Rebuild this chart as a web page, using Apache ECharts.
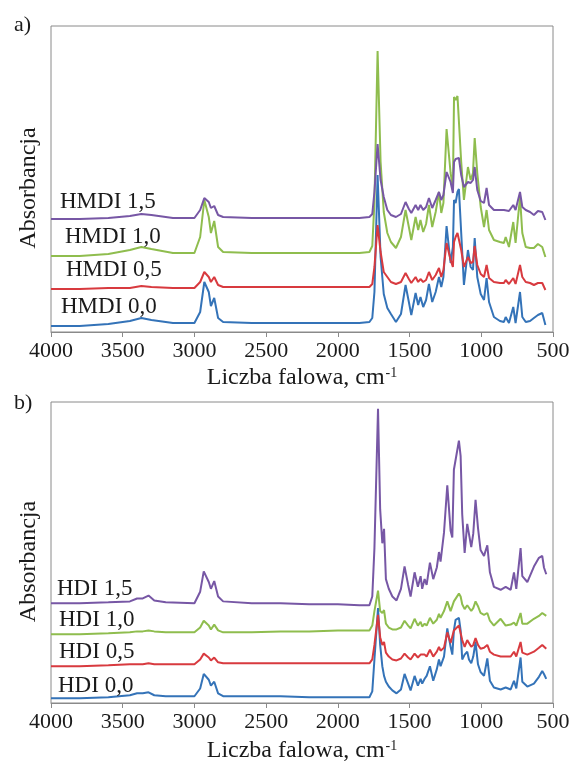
<!DOCTYPE html>
<html>
<head>
<meta charset="utf-8">
<script src="https://cdn.jsdelivr.net/npm/echarts@6/dist/echarts.min.js"></script>
<style>
html,body{margin:0;padding:0;background:#fff;}
#chart{width:577px;height:776px;}
</style>
</head>
<body>
<div id="chart"></div>
<script>
// ---- Panel a) HMDI : wavenumbers (cm-1) and absorbance (a.u., offset traces) ----
const wavenumbersA = [4000,3800,3600,3450,3370,3300,3150,3000,2960,2931,2900,2885,2862,2835,2800,2600,2400,2200,2000,1850,1780,1760,1745,1723,1702,1680,1655,1630,1595,1560,1528,1505,1488,1458,1440,1424,1405,1385,1365,1342,1318,1295,1279,1264,1242,1214,1198,1190,1179,1166,1156,1140,1121,1093,1074,1058,1046,1028,1004,981,963,946,912,870,842,830,807,777,761,730,714,690,660,633,605,575,553];
const hmdi00 = [6,6,8,11,14,12,9,9,20,50,40,26,34,14,10,9,9,9,9,9,10,14,40,157,75,38,24,18,10,18,47,30,17,39,27,35,25,32,48,30,40,55,45,55,106,69,85,132,129,140,143,99,47,82,65,62,94,55,38,32,54,30,15,11,10,15,9,25,9,40,15,10,11,14,17,19,7];
const hmdi05 = [43,43,44,44,46,45,44,44,50,60,55,50,55,47,45,45,45,45,45,45,45,48,65,107,80,60,55,50,48,50,59,53,49,55,50,53,50,52,60,52,57,64,55,62,89,72,65,90,95,99,98,82,65,75,69,70,86,67,58,55,67,54,50,49,49,52,48,54,48,67,55,50,49,47,49,49,42];
const hmdi10 = [76,76,78,82,85,83,79,79,95,132,115,99,111,85,80,79,79,79,79,79,80,86,130,281,170,120,99,90,84,95,122,105,92,115,102,112,100,108,127,105,120,140,119,129,203,159,145,235,232,236,237,170,132,165,152,159,194,159,125,105,122,102,92,90,89,95,85,110,89,135,99,85,84,84,88,85,75];
const hmdi15 = [113,113,114,116,118,117,114,114,122,134,130,124,126,117,115,114,114,114,114,114,115,118,140,188,152,135,122,117,115,118,130,123,119,127,122,127,122,125,134,124,132,140,132,137,160,150,139,170,173,175,174,157,145,150,149,152,165,142,131,129,144,127,122,122,122,124,121,127,122,140,125,122,120,117,121,120,112];

// ---- Panel b) HDI ----
const wavenumbersB = [4000,3800,3600,3450,3400,3360,3320,3280,3200,3000,2960,2935,2900,2885,2862,2835,2800,2600,2400,2200,2000,1850,1780,1760,1745,1720,1705,1690,1678,1665,1645,1620,1591,1560,1535,1510,1493,1465,1442,1423,1412,1395,1381,1358,1335,1310,1295,1284,1260,1237,1214,1202,1191,1179,1156,1144,1133,1116,1098,1086,1070,1056,1040,1023,1005,981,958,940,912,865,830,795,772,756,726,714,679,633,598,575,563,547];
const hdi00 = [5,5,6,8,10,10,11,8,7,7,15,30,24,18,22,10,7,7,7,6,6,6,6,12,45,98,60,38,28,22,17,13,10,14,30,20,13,28,18,25,20,25,28,38,23,35,45,38,48,77,58,50,75,86,88,75,45,50,53,45,41,48,63,40,32,28,46,23,16,14,16,14,23,15,47,22,17,20,27,33,30,25];
const hdi05 = [38,38,39,40,40,40,41,40,40,40,45,51,47,44,47,42,41,41,41,41,41,41,41,45,60,91,68,60,63,52,48,45,44,46,51,47,45,51,47,50,48,50,48,55,48,53,58,54,57,73,62,64,75,76,80,78,65,58,65,62,58,60,67,60,56,57,60,53,50,48,48,48,53,48,63,52,50,53,57,60,58,56];
const hdi10 = [71,71,72,73,74,74,75,74,73,73,78,85,80,76,81,75,73,73,74,74,75,75,75,80,95,116,95,93,96,82,78,76,76,78,85,80,77,87,80,84,79,82,80,88,82,86,92,88,95,105,95,96,105,107,113,110,102,97,101,100,95,98,105,100,93,91,93,85,80,87,80,81,83,80,93,82,82,87,90,93,92,90];
const hdi15 = [103,103,104,105,108,108,111,106,104,103,115,136,125,118,126,110,105,103,103,102,102,101,101,110,160,304,200,165,180,128,118,110,106,118,141,122,110,135,120,131,118,128,122,145,128,140,156,146,176,225,178,171,241,243,271,255,195,155,185,185,161,175,210,181,158,152,163,135,120,117,120,117,135,118,160,131,125,141,150,152,140,133];

const namesA = ['HMDI 0,0','HMDI 0,5','HMDI 1,0','HMDI 1,5'];
const namesB = ['HDI 0,0','HDI 0,5','HDI 1,0','HDI 1,5'];
const xTicks = [4000,3500,3000,2500,2000,1500,1000,500];
const xTitle = 'Liczba falowa, cm';
const xTitleSup = '-1';
const yTitle = 'Absorbancja';

const colors = ['#3473b8','#d83a3f','#8fbd4e','#7757a5'];
const SERIF = '"Liberation Serif","Times New Roman",serif';

function pairs(w, v){ return w.map((x,i)=>[x, v[i]]); }

function buildSeries(gridIndex, w, arrs, names, offsets){
  return arrs.map((arr, k) => ({
    name: names[k], type: 'line', xAxisIndex: gridIndex, yAxisIndex: gridIndex,
    data: pairs(w, arr), showSymbol: false, symbol: 'none',
    lineStyle: {width: 2, color: colors[k]}, itemStyle: {color: colors[k]},
    z: 2 + k, animation: false,
    markPoint: {
      silent: true, symbol: 'circle', symbolSize: 0, animation: false,
      itemStyle: {color: 'rgba(0,0,0,0)'},
      label: {
        show: true, position: 'right', distance: 0, offset: offsets[k],
        formatter: names[k], fontFamily: SERIF, fontSize: 23, color: '#1a1a1a'
      },
      data: [{coord: [w[0], arr[0]]}]
    }
  }));
}

function xAxisFor(gridIndex, gap){
  return {
    gridIndex: gridIndex, type: 'value', inverse: true, min: 500, max: 4000, interval: 500,
    axisLine: {show: true, onZero: false, lineStyle: {color: '#8a8a8a', width: 1}},
    axisTick: {show: true, inside: false, length: 5, lineStyle: {color: '#8a8a8a'}},
    axisLabel: {fontFamily: SERIF, fontSize: 22, color: '#1a1a1a', margin: 8,
      formatter: v => xTicks.indexOf(v) >= 0 ? String(v) : ''},
    splitLine: {show: false},
    name: '{n|' + xTitle + '}{s|' + xTitleSup + '}',
    nameLocation: 'middle', nameGap: gap,
    nameTextStyle: {
      fontFamily: SERIF, fontSize: 24, color: '#1a1a1a',
      rich: {
        n: {fontFamily: SERIF, fontSize: 24, color: '#1a1a1a', verticalAlign: 'bottom', lineHeight: 24},
        s: {fontFamily: SERIF, fontSize: 14, color: '#1a1a1a', verticalAlign: 'top', lineHeight: 14, padding: [0,0,22,1]}
      }
    }
  };
}

function yAxisFor(gridIndex, max){
  return {
    gridIndex: gridIndex, type: 'value', min: 0, max: max,
    axisLine: {show: false}, axisTick: {show: false}, axisLabel: {show: false},
    splitLine: {show: false},
    name: yTitle, nameLocation: 'middle', nameGap: 10, nameRotate: 90,
    nameTextStyle: {fontFamily: SERIF, fontSize: 24, color: '#1a1a1a', padding: [0, 18, 0, 0]}
  };
}

const chart = echarts.init(document.getElementById('chart'), null, {renderer: 'canvas'});
chart.setOption({
  backgroundColor: '#ffffff',
  animation: false,
  title: [
    {text: 'a)', left: 14, top: 14, padding: 0, textStyle: {fontFamily: SERIF, fontSize: 22, fontWeight: 'normal', color: '#1a1a1a'}},
    {text: 'b)', left: 14, top: 392, padding: 0, textStyle: {fontFamily: SERIF, fontSize: 22, fontWeight: 'normal', color: '#1a1a1a'}}
  ],
  grid: [
    {left: 51, right: 24, top: 26, height: 306, show: true, borderColor: '#8a8a8a', borderWidth: 1, containLabel: false},
    {left: 51, right: 24, top: 402, height: 311, show: true, borderColor: '#8a8a8a', borderWidth: 1, containLabel: false}
  ],
  xAxis: [xAxisFor(0, 34), xAxisFor(1, 36)],
  yAxis: [yAxisFor(0, 306), yAxisFor(1, 311)],
  series: [].concat(
    buildSeries(0, wavenumbersA, [hmdi00, hmdi05, hmdi10, hmdi15], namesA, [[10,-19],[15,-19],[14,-19],[9,-17]]),
    buildSeries(1, wavenumbersB, [hdi00, hdi05, hdi10, hdi15], namesB, [[7,-12],[8,-14],[8,-14],[6,-14]])
  )
});
</script>
</body>
</html>
